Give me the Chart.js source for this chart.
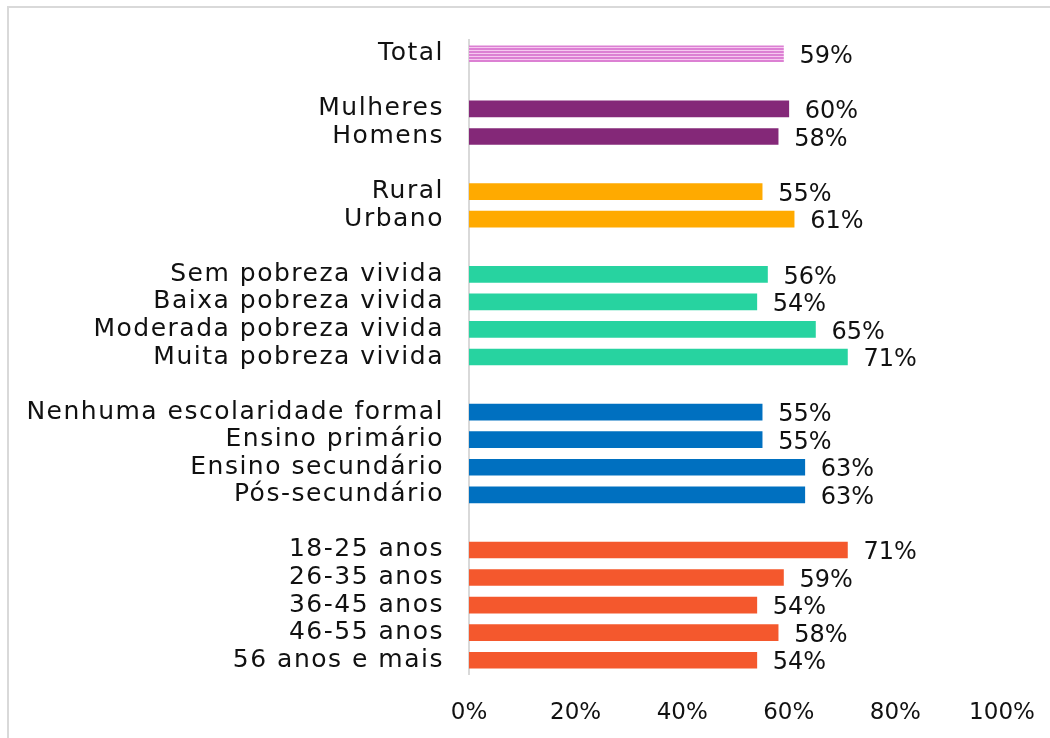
<!DOCTYPE html>
<html>
<head>
<meta charset="utf-8">
<script src="https://cdn.jsdelivr.net/npm/chart.js@4/dist/chart.umd.min.js"></script>
<style>
  html, body { margin: 0; padding: 0; background: #fff; overflow: hidden; }
  #wrap { position: relative; width: 1050px; height: 738px; }
  #frame { position: absolute; left: 7px; top: 6px; width: 1060px; height: 760px; border: 2px solid #d9d9d9; box-sizing: border-box; }
  canvas { position: absolute; left: 0; top: 0; }
</style>
</head>
<body>
<div id="wrap">
  <div id="frame"></div>
  <canvas id="chart" width="1050" height="738"></canvas>
</div>
<script>
// groups of rows, a blank row goes between each group
const groupTotal = ['Total'];
const groupSexo = ['Mulheres', 'Homens'];
const groupLocal = ['Rural', 'Urbano'];
const groupPobreza = ['Sem pobreza vivida', 'Baixa pobreza vivida', 'Moderada pobreza vivida', 'Muita pobreza vivida'];
const groupEscola = ['Nenhuma escolaridade formal', 'Ensino primário', 'Ensino secundário', 'Pós-secundário'];
const groupIdade = ['18-25 anos', '26-35 anos', '36-45 anos', '46-55 anos', '56 anos e mais'];

const valTotal = [59];
const valSexo = [60, 58];
const valLocal = [55, 61];
const valPobreza = [56, 54, 65, 71];
const valEscola = [55, 55, 63, 63];
const valIdade = [71, 59, 54, 58, 54];

const xTicks = [0, 20, 40, 60, 80, 100];

// stripe pattern for the Total bar
function stripes() {
    const c = document.createElement('canvas');
    c.width = 4; c.height = 3;
    const g = c.getContext('2d');
    g.fillStyle = '#f6c9f0';
    g.fillRect(0, 0, 4, 3);
    g.fillStyle = '#dc80d3';
    g.fillRect(0, 0, 4, 2);
    return g.createPattern(c, 'repeat');
}

const groupList = [
    [groupTotal, valTotal, stripes()],
    [groupSexo, valSexo, '#842878'],
    [groupLocal, valLocal, '#ffaa00'],
    [groupPobreza, valPobreza, '#27d3a0'],
    [groupEscola, valEscola, '#0070c0'],
    [groupIdade, valIdade, '#f4582d']
];

const labels = [], values = [], colors = [];
groupList.forEach((grp, i) => {
    if (i > 0) { labels.push(''); values.push(null); colors.push('#fff'); }
    grp[0].forEach((name, j) => {
        labels.push(name);
        values.push(grp[1][j]);
        colors.push(grp[2]);
    });
});

const FONT = 'DejaVu Sans';

// category axis whose labels are drawn a bit wider (the original font is very wide)
class WideCategory extends Chart.CategoryScale {
    drawLabels(area) {
        this.ctx.save();
        this.ctx.letterSpacing = '1.5px';
        super.drawLabels(area);
        this.ctx.restore();
    }
}
WideCategory.id = 'wideCategory';
WideCategory.defaults = Chart.CategoryScale.defaults;
Chart.register(WideCategory);

const valueLabels = {
    id: 'valueLabels',
    afterDatasetsDraw(chart) {
        const ctx = chart.ctx;
        const meta = chart.getDatasetMeta(0);
        ctx.save();
        ctx.font = '24px "' + FONT + '"';
        ctx.fillStyle = '#111';
        ctx.textAlign = 'left';
        ctx.textBaseline = 'middle';
        meta.data.forEach((bar, i) => {
            const v = values[i];
            if (v === null) return;
            ctx.fillText(v + '%', bar.x + 16, bar.y + 3);
        });
        ctx.restore();
    }
};

new Chart(document.getElementById('chart').getContext('2d'), {
    type: 'bar',
    data: {
        labels: labels,
        datasets: [{
            data: values,
            backgroundColor: colors,
            borderWidth: 0,
            barThickness: 16
        }]
    },
    options: {
        indexAxis: 'y',
        responsive: false,
        animation: false,
        layout: { padding: { top: 33, right: 48, left: 0, bottom: 0 } },
        plugins: {
            legend: { display: false },
            tooltip: { enabled: false }
        },
        scales: {
            x: {
                min: 0,
                max: 100,
                afterFit: s => { s.height = 64; s.paddingLeft = 0; s.paddingRight = 0; },
                afterBuildTicks: s => { s.ticks = xTicks.map(v => ({ value: v })); },
                grid: { display: false, drawTicks: false },
                border: { display: false },
                ticks: {
                    padding: 25,
                    color: '#111',
                    font: { family: FONT, size: 23 },
                    callback: v => v + '%'
                }
            },
            y: {
                type: 'wideCategory',
                afterFit: s => { s.width = 469; },
                grid: { display: false, drawTicks: false },
                border: { display: true, color: '#d9d9d9', width: 2 },
                ticks: {
                    padding: 25,
                    autoSkip: false,
                    color: '#111',
                    font: { family: FONT, size: 25 }
                }
            }
        }
    },
    plugins: [valueLabels]
});
</script>
</body>
</html>
